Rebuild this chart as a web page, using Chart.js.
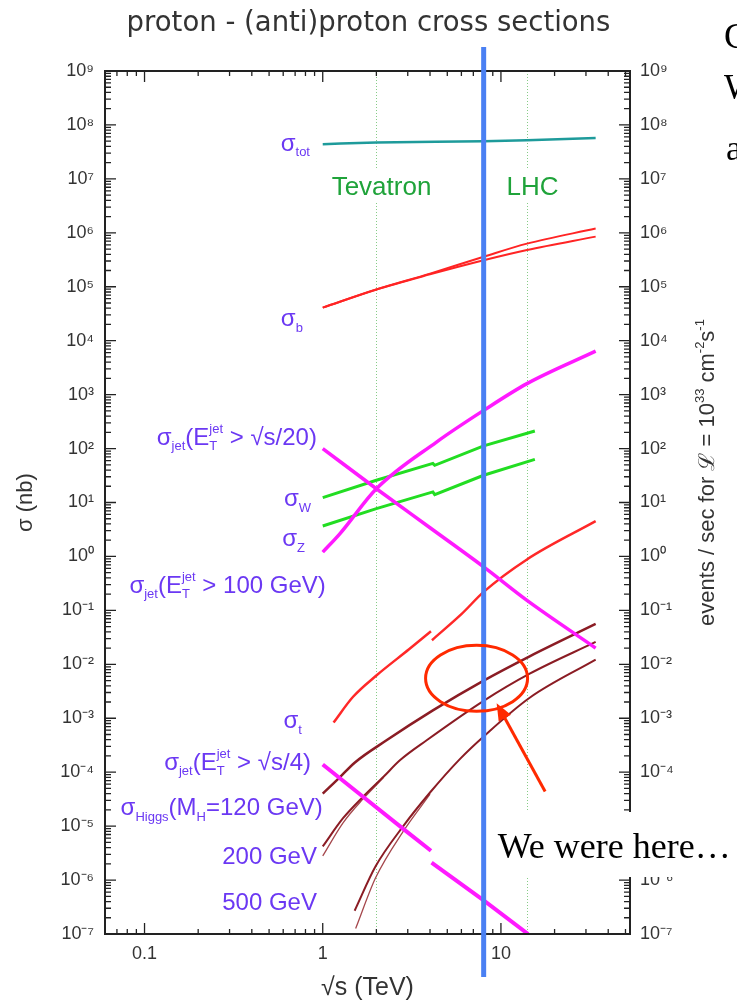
<!DOCTYPE html>
<html>
<head>
<meta charset="utf-8">
<title>proton - (anti)proton cross sections</title>
<script src="https://cdn.jsdelivr.net/npm/chart.js@4.4.1/dist/chart.umd.min.js"></script>
<style>
  html, body { margin: 0; padding: 0; background: #fff; }
  canvas { display: block; }
</style>
</head>
<body>
<canvas id="xsec" width="737" height="1006"></canvas>
<script>
/* globals Chart:false */

// sqrt(s) in TeV, sigma in nb
const totX = [1, 2, 8, 14, 34]
const totY = [4.4e7, 4.7e7, 5.0e7, 5.2e7, 5.7e7]

const bX = [1, 2, 4, 8, 14, 34]
const bUpperY = [4.1e4, 8.9e4, 1.75e5, 3.6e5, 6.3e5, 1.2e6]
const bLowerY = [4.1e4, 8.9e4, 1.7e5, 3.1e5, 4.8e5, 8.5e5]

const jet20X = [1, 2, 4, 8, 14, 34]
const jet20Y = [100, 18, 3.4, 0.64, 0.153, 0.02]

const jet100X = [1, 1.25, 2, 4.35, 8, 14, 34]
const jet100Y = [1.2, 2.65, 18, 132, 510, 1600, 6400]

const wzX = [1, 2, 4.15, 4.25, 8, 15.5]
const wY = [12.3, 25.8, 53, 49, 112, 212]
const zY = [3.67, 7.7, 15.7, 14, 32, 63]

// null = break where the curves switch from p-pbar to pp
const topX = [1.15, 1.48, 2, 3.05, 4.05, 4.07, 4.1, 6, 8, 14, 34]
const topY = [8.3e-4, 2.5e-3, 6.2e-3, 0.019, 0.041, null, 0.028, 0.085, 0.22, 0.88, 4.5]

const jet4X = [1, 1.684, 2.83, 4.05, 4.06, 4.08, 8, 14.2]
const jet4Y = [1.39e-4, 3.5e-5, 8.9e-6, 3.5e-6, null, 2.1e-6, 4.2e-7, 1.0e-7]

const h120X = [1, 1.25, 1.51, 2.28, 4.15, 8, 14.5, 34]
const h120Y = [4.0e-5, 8.1e-5, 1.5e-4, 3.9e-4, 1.4e-3, 5.0e-3, 1.41e-2, 5.6e-2]

const h200X = [1, 1.3, 1.684, 2.2, 2.71, 3.83, 8, 14.5, 34]
const h200Y = [4.2e-6, 1.4e-5, 3.5e-5, 8.3e-5, 1.66e-4, 3.9e-4, 2.1e-3, 6.7e-3, 2.6e-2]
const h200bX = [1, 1.3, 1.684, 2.2]
const h200bY = [2.8e-6, 1.15e-5, 3.2e-5, 8.0e-5]

const h500X = [1.51, 1.98, 2.83, 4.0, 5.88, 8, 14.5, 34]
const h500Y = [2.7e-7, 1.8e-6, 1.0e-5, 4.2e-5, 1.75e-4, 4.6e-4, 2.4e-3, 1.22e-2]
const h500bX = [1.53, 1.98, 2.83, 4.0]
const h500bY = [1.26e-7, 1.1e-6, 8.0e-6, 3.9e-5]

const xTickValues = [0.1, 1, 10]
const xTickLabels = ['0.1', '1', '10']
const yExponents = [-7, -6, -5, -4, -3, -2, -1, 0, 1, 2, 3, 4, 5, 6, 7, 8, 9]

const colliderNames = ['Tevatron', 'LHC']
const colliderEnergies = [2, 14]
const nowEnergy = 8

;(() => {
  'use strict'

  const SANS = '"Liberation Sans", Arial, Helvetica, sans-serif'
  const INK = '#333'
  const VIOLET = '#6b38f3'

  const SUP = { '-': '⁻', 0: '⁰', 1: '¹', 2: '²', 3: '³', 4: '⁴', 5: '⁵', 6: '⁶', 7: '⁷', 8: '⁸', 9: '⁹' }
  const sup = n => String(n).split('').map(c => SUP[c]).join('')

  const isDecade = v => {
    const e = Math.round(Math.log10(v))
    return Math.abs(v / Math.pow(10, e) - 1) < 1e-6
  }
  const decadeLabel = v => {
    const e = Math.round(Math.log10(v))
    return isDecade(v) && yExponents.includes(e) ? '10' + sup(e) : ''
  }

  // 1..9 x 10^n inside [lo, hi]
  const logTicks = (lo, hi) => {
    const out = []
    for (let e = Math.floor(Math.log10(lo)); e <= Math.floor(Math.log10(hi)); e++) {
      for (let k = 1; k <= 9; k++) {
        const v = Number(k + 'e' + e)
        if (v >= lo * (1 - 1e-9) && v <= hi * (1 + 1e-9)) out.push({ value: v })
      }
    }
    return out
  }

  const curve = (label, xs, ys, color, width, smooth = true) => ({
    label,
    data: xs.map((x, i) => ({ x, y: ys[i] })),
    showLine: true,
    borderColor: color,
    backgroundColor: color,
    borderWidth: width,
    pointRadius: 0,
    cubicInterpolationMode: smooth ? 'monotone' : 'default',
    tension: 0,
    spanGaps: false
  })

  // rich text: [text, size, dy, stackOnPrevious]
  function layoutRich (ctx, parts, family) {
    let pen = 0
    let last = null
    const items = parts.map(([t, size, dy, stack]) => {
      ctx.font = size + 'px ' + family
      const w = ctx.measureText(t).width
      let x = pen
      if (stack && last) {
        x = last.x
        pen = Math.max(last.x + last.w, x + w)
      } else {
        pen = x + w
      }
      last = { t, size, dy, x, w }
      return last
    })
    return { items, width: pen }
  }

  function drawRich (ctx, parts, x, y, align, family) {
    const { items, width } = layoutRich(ctx, parts, family)
    const x0 = align === 'right' ? x - width : align === 'center' ? x - width / 2 : x
    ctx.textAlign = 'left'
    ctx.textBaseline = 'alphabetic'
    items.forEach(it => {
      ctx.font = it.size + 'px ' + family
      ctx.fillText(it.t, x0 + it.x, y + it.dy)
    })
  }

  const M = 24
  const S = 13
  const jetLabel = tail => [['σ', M, 0], ['jet', S, 5], ['(E', M, 0], ['T', S, 5], ['jet', S, -12, true], [tail, M, 0]]
  const curveLabels = [
    { parts: [['σ', M, 0], ['tot', S, 5]], x: 0.848, y: 3.29e7 },
    { parts: [['σ', M, 0], ['b', S, 6]], x: 0.774, y: 1.87e4 },
    { parts: jetLabel(' > √s/20)'), x: 0.928, y: 116 },
    { parts: [['σ', M, 0], ['W', S, 6]], x: 0.859, y: 8.6 },
    { parts: [['σ', M, 0], ['Z', S, 6]], x: 0.795, y: 1.56 },
    { parts: jetLabel(' > 100 GeV)'), x: 1.04, y: 0.21 },
    { parts: [['σ', M, 0], ['t', S, 6]], x: 0.764, y: 6.6e-4 },
    { parts: jetLabel(' > √s/4)'), x: 0.859, y: 1.1e-4 },
    { parts: [['σ', M, 0], ['Higgs', S, 6], ['(M', M, 0], ['H', S, 6], ['=120 GeV)', M, 0]], x: 1.0, y: 1.61e-5 },
    { parts: [['200 GeV', M, 0]], x: 0.928, y: 1.99e-6 },
    { parts: [['500 GeV', M, 0]], x: 0.928, y: 2.79e-7 }
  ]

  const background = {
    id: 'background',
    beforeDraw (chart) {
      const { ctx, width, height } = chart
      ctx.save()
      ctx.fillStyle = '#fff'
      ctx.fillRect(0, 0, width, height)
      ctx.restore()
    }
  }

  const colliders = {
    id: 'colliders',
    beforeDatasetsDraw (chart) {
      const { ctx, chartArea: a, scales: { x } } = chart
      ctx.save()
      colliderEnergies.forEach((e, i) => {
        const px = Math.round(x.getPixelForValue(e)) + 0.5
        ctx.strokeStyle = '#86cc86'
        ctx.lineWidth = 1
        ctx.setLineDash([1, 2])
        ctx.beginPath()
        ctx.moveTo(px, a.top)
        ctx.lineTo(px, a.bottom)
        ctx.stroke()
        ctx.setLineDash([])
        ctx.font = '26px ' + SANS
        const w = ctx.measureText(colliderNames[i]).width
        const cx = px + 5
        ctx.fillStyle = '#fff'
        ctx.fillRect(cx - w / 2 - 3, 170, w + 6, 32)
        ctx.fillStyle = '#1fa33a'
        ctx.textAlign = 'center'
        ctx.textBaseline = 'alphabetic'
        ctx.fillText(colliderNames[i], cx, 195)
      })
      ctx.restore()
    }
  }

  const frame = {
    id: 'frame',
    afterDatasetsDraw (chart) {
      const { ctx, chartArea: a, scales: { x, y } } = chart
      ctx.save()
      ctx.strokeStyle = '#222'
      ctx.lineWidth = 1.3
      ctx.beginPath()
      y.ticks.forEach(t => {
        const p = y.getPixelForValue(t.value)
        const len = isDecade(t.value) ? 11 : 6
        ctx.moveTo(a.left, p)
        ctx.lineTo(a.left + len, p)
        ctx.moveTo(a.right, p)
        ctx.lineTo(a.right - len, p)
      })
      x.ticks.forEach(t => {
        const p = x.getPixelForValue(t.value)
        const len = xTickValues.includes(t.value) ? 11 : 5
        ctx.moveTo(p, a.bottom)
        ctx.lineTo(p, a.bottom - len)
        ctx.moveTo(p, a.top)
        ctx.lineTo(p, a.top + len)
      })
      ctx.stroke()
      ctx.lineWidth = 2
      ctx.strokeRect(a.left, a.top, a.right - a.left, a.bottom - a.top)

      ctx.fillStyle = VIOLET
      curveLabels.forEach(l => {
        drawRich(ctx, l.parts, x.getPixelForValue(l.x), y.getPixelForValue(l.y), 'right', SANS)
      })
      ctx.restore()
    }
  }

  const overlay = {
    id: 'overlay',
    afterDraw (chart) {
      const { ctx, chartArea: a, scales: { x, y } } = chart

      // right axis title
      ctx.save()
      ctx.translate(a.right + 76, (a.top + a.bottom) / 2 - 30)
      ctx.rotate(-Math.PI / 2)
      ctx.fillStyle = INK
      drawRich(ctx, [['events / sec for ', 22, 0], ['ℒ', 22, 0], [' = 10', 22, 0], ['33', 13, -10],
        [' cm', 22, 0], ['-2', 13, -10], ['s', 22, 0], ['-1', 13, -10]], 0, 8, 'center', SANS)
      ctx.restore()

      const blue = x.getPixelForValue(nowEnergy)

      // "We were here..." box
      ctx.save()
      ctx.fillStyle = '#fff'
      ctx.fillRect(blue + 3, 812, chart.width - blue - 3, 65)
      ctx.fillStyle = '#000'
      ctx.font = '36px "Liberation Serif", "Times New Roman", serif'
      ctx.textAlign = 'left'
      ctx.textBaseline = 'alphabetic'
      ctx.fillText('We were here…', blue + 14, 858)
      // clipped slide text on the right
      ctx.fillText('C', 724, 48)
      ctx.fillText('W', 724, 99)
      ctx.fillText('a', 726, 160)
      ctx.restore()

      // current energy marker
      ctx.save()
      ctx.strokeStyle = '#4a80f3'
      ctx.lineWidth = 5
      ctx.beginPath()
      ctx.moveTo(blue, 47)
      ctx.lineTo(blue, 977)
      ctx.stroke()

      // red ellipse + arrow
      ctx.strokeStyle = '#ff2a00'
      ctx.fillStyle = '#ff2a00'
      ctx.lineWidth = 3
      ctx.beginPath()
      ctx.ellipse(x.getPixelForValue(7.3), y.getPixelForValue(5.5e-3), 51, 33, 0, 0, Math.PI * 2)
      ctx.stroke()
      const tx = x.getPixelForValue(17.7)
      const ty = y.getPixelForValue(4.4e-5)
      const hx = x.getPixelForValue(9.46)
      const hy = y.getPixelForValue(1.9e-3)
      const ang = Math.atan2(hy - ty, hx - tx)
      ctx.beginPath()
      ctx.moveTo(tx, ty)
      ctx.lineTo(hx - 12 * Math.cos(ang), hy - 12 * Math.sin(ang))
      ctx.stroke()
      ctx.beginPath()
      ctx.moveTo(hx, hy)
      ctx.lineTo(hx - 17 * Math.cos(ang) + 7 * Math.sin(ang), hy - 17 * Math.sin(ang) - 7 * Math.cos(ang))
      ctx.lineTo(hx - 17 * Math.cos(ang) - 7 * Math.sin(ang), hy - 17 * Math.sin(ang) + 7 * Math.cos(ang))
      ctx.closePath()
      ctx.fill()
      ctx.restore()
    }
  }

  const yAxis = (position, width, pad) => ({
    type: 'logarithmic',
    position,
    min: 1e-7,
    max: 1e9,
    afterBuildTicks: s => { s.ticks = logTicks(1e-7, 1e9) },
    afterFit: s => { s.width = width },
    grid: { display: false, drawTicks: false },
    border: { display: false },
    ticks: { autoSkip: false, padding: pad, color: INK, font: { family: SANS, size: 18 }, callback: decadeLabel }
  })

  const brown = '#8b1c24'
  const brownThin = '#a5474c'

  // eslint-disable-next-line no-unused-vars
  const chart = new Chart(document.getElementById('xsec'), {
    type: 'scatter',
    data: {
      datasets: [
        curve('σ tot', totX, totY, '#1e9b9b', 2.5),
        curve('σ b (upper)', bX, bUpperY, '#ff2424', 2),
        curve('σ b (lower)', bX, bLowerY, '#ff2424', 2),
        curve('σ jet (ET > √s/20)', jet20X, jet20Y, '#ff1aff', 3.5),
        curve('σ jet (ET > 100 GeV)', jet100X, jet100Y, '#ff1aff', 3.5),
        curve('σ W', wzX, wY, '#22dd22', 3, false),
        curve('σ Z', wzX, zY, '#22dd22', 3, false),
        curve('σ t', topX, topY, '#ff2828', 2.5),
        curve('σ jet (ET > √s/4)', jet4X, jet4Y, '#ff1aff', 4, false),
        curve('σ Higgs (MH = 120 GeV)', h120X, h120Y, brown, 2.5),
        curve('σ Higgs (MH = 200 GeV)', h200X, h200Y, brown, 2),
        curve('σ Higgs (MH = 200 GeV) band', h200bX, h200bY, brownThin, 1.3),
        curve('σ Higgs (MH = 500 GeV)', h500X, h500Y, brown, 2),
        curve('σ Higgs (MH = 500 GeV) band', h500bX, h500bY, brownThin, 1.3)
      ]
    },
    options: {
      responsive: false,
      animation: false,
      events: [],
      layout: { padding: 0 },
      plugins: {
        legend: { display: false },
        tooltip: { enabled: false },
        title: {
          display: true,
          text: 'proton - (anti)proton cross sections',
          color: INK,
          font: { family: '"DejaVu Sans", sans-serif', size: 27.5, weight: 'normal' },
          padding: { top: 7, bottom: 31 }
        }
      },
      scales: {
        x: {
          type: 'logarithmic',
          position: 'bottom',
          min: 0.06,
          max: 53,
          afterBuildTicks: s => { s.ticks = logTicks(0.06, 53) },
          afterFit: s => { s.height = 72 },
          grid: { display: false, drawTicks: false },
          border: { display: false },
          ticks: {
            autoSkip: false,
            maxRotation: 0,
            padding: 9,
            color: INK,
            font: { family: SANS, size: 18 },
            callback: v => {
              const i = xTickValues.indexOf(v)
              return i >= 0 ? xTickLabels[i] : ''
            }
          },
          title: { display: true, text: '√s (TeV)', color: INK, font: { family: SANS, size: 25 }, padding: { top: 0, bottom: 3 } }
        },
        y: Object.assign(yAxis('left', 105, 11), {
          title: { display: true, text: 'σ (nb)', color: INK, font: { family: SANS, size: 22 }, padding: { top: 13, bottom: 0 } }
        }),
        y2: yAxis('right', 107, 10)
      }
    },
    plugins: [background, colliders, frame, overlay]
  })
})()
</script>
</body>
</html>
